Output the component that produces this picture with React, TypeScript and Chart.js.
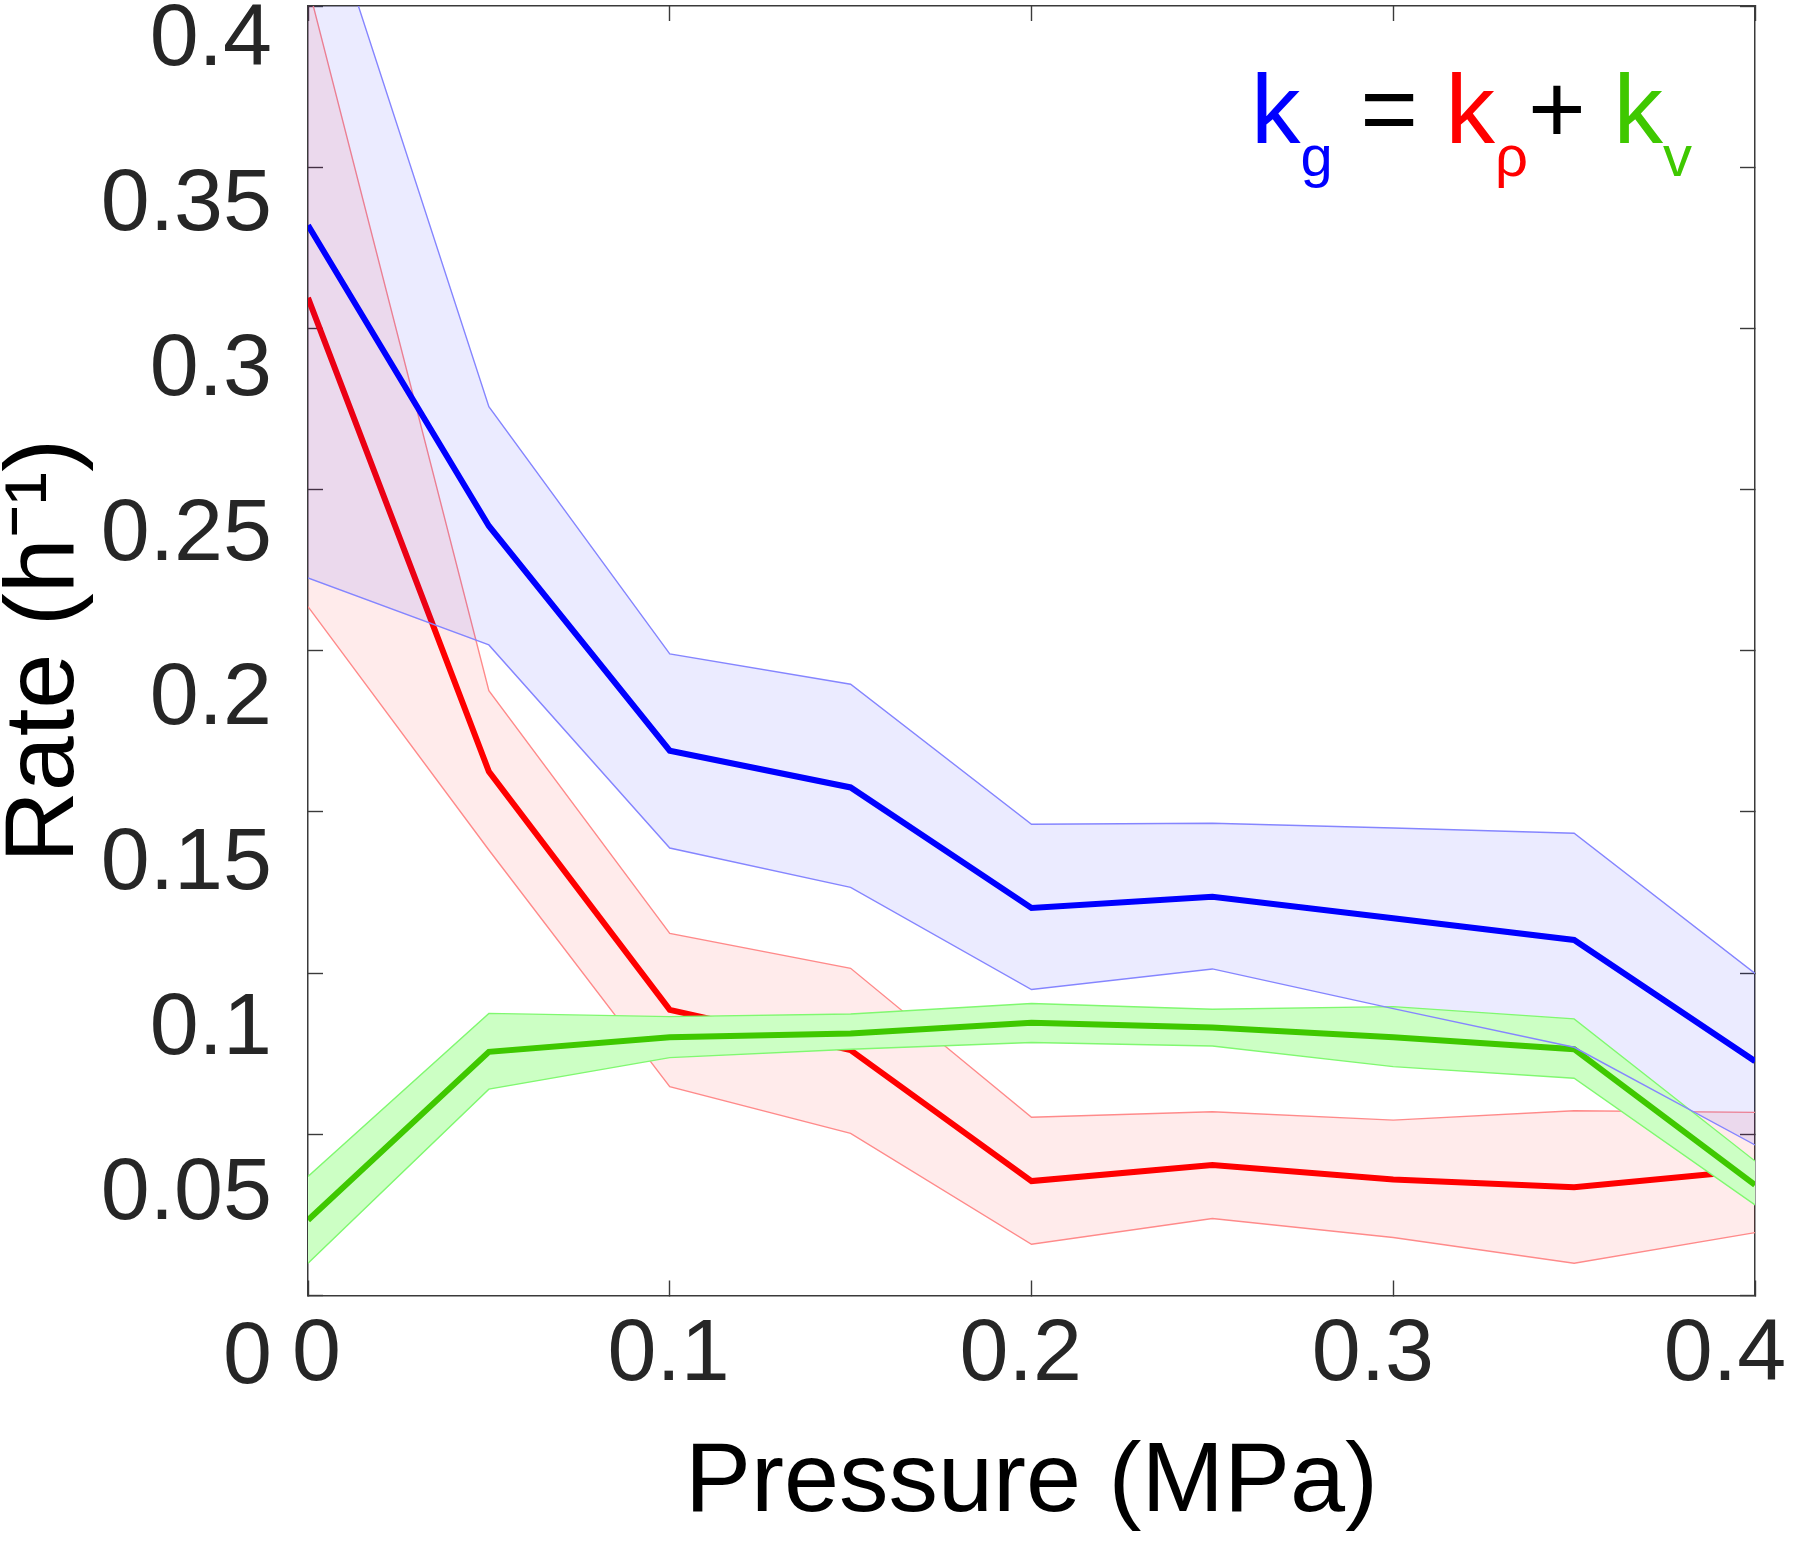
import React, { useEffect, useRef } from 'react';
import { Chart, registerables } from 'chart.js';

Chart.register(...registerables);

// ---- data ----
const pressure = [0, 0.05, 0.1, 0.15, 0.2, 0.25, 0.3, 0.35, 0.4];

const kgMean = [0.332, 0.2387, 0.169, 0.1576, 0.1202, 0.1237, 0.117, 0.1103, 0.0727];
const kgUpper = [0.448, 0.2757, 0.199, 0.1896, 0.1462, 0.1465, 0.145, 0.1434, 0.0999];
const kgLower = [0.2226, 0.2018, 0.1388, 0.1266, 0.0949, 0.1013, 0.089, 0.077, 0.0467];

const krMean = [0.3095, 0.1625, 0.0886, 0.0761, 0.0355, 0.0405, 0.036, 0.0336, 0.0389];
const krUpper = [0.4064, 0.1876, 0.1123, 0.1015, 0.0553, 0.057, 0.0544, 0.0573, 0.0568];
const krLower = [0.2137, 0.1382, 0.0648, 0.0503, 0.0159, 0.0239, 0.018, 0.01, 0.0195];

const kvMean = [0.0234, 0.0756, 0.0801, 0.0813, 0.0846, 0.0831, 0.0801, 0.0764, 0.0343];
const kvUpper = [0.0369, 0.0875, 0.0865, 0.0873, 0.0906, 0.0888, 0.0896, 0.0858, 0.0417];
const kvLower = [0.01, 0.064, 0.0738, 0.0764, 0.0785, 0.0774, 0.071, 0.0674, 0.0281];

const xTickValues = [0, 0.1, 0.2, 0.3, 0.4];
const yTickValues = [0, 0.05, 0.1, 0.15, 0.2, 0.25, 0.3, 0.35, 0.4];

const xTitle = 'Pressure (MPa)';
const yTitle = 'Rate (h\u207B\u00B9)';

// ---- styles ----
const FONT = "'Liberation Sans', 'Noto Sans', Arial, Helvetica, 'DejaVu Sans', sans-serif";
const AXIS = '#3a3a3a';
const TICKTXT = '#262626';
const BLUE = '#0000ff';
const RED = '#ff0000';
const GREEN = '#3fc800';

const W = 1800;
const H = 1544;

const fmt = (v: number) => String(Number(Number(v).toFixed(2)));

const fixSize = (prop: 'width' | 'height', size: number) => (s: any) => {
  s[prop] = size;
  s.paddingTop = 0;
  s.paddingBottom = 0;
  s.paddingLeft = 0;
  s.paddingRight = 0;
};

export default function App() {
  const ref = useRef<HTMLCanvasElement>(null);

  useEffect(() => {
    if (!ref.current) return;
    const pts = (ys: number[]) => pressure.map((x, i) => ({ x, y: ys[i] }));
    const base = { pointRadius: 0, pointHoverRadius: 0, tension: 0, xAxisID: 'x', yAxisID: 'y' };

    // index: 0 krUpper, 1 krLower, 2 krMean, 3 kgUpper, 4 kvUpper, 5 kvLower, 6 kvMean, 7 kgLower, 8 kgMean
    const datasets: any[] = [
      { ...base, label: 'k\u03C1 upper', data: pts(krUpper), borderColor: '#ff8a8a', borderWidth: 1.4, backgroundColor: 'rgba(255,0,0,0.08)', fill: 1, order: 92 },
      { ...base, label: 'k\u03C1 lower', data: pts(krLower), borderColor: '#ff8a8a', borderWidth: 1.4, fill: false, order: 91 },
      { ...base, label: 'k\u03C1', data: pts(krMean), borderColor: RED, borderWidth: 6, fill: false, order: 90 },
      { ...base, label: 'kg upper', data: pts(kgUpper), borderColor: '#8585ff', borderWidth: 1.4, backgroundColor: 'rgba(0,0,255,0.08)', fill: 7, order: 80 },
      { ...base, label: 'kv upper', data: pts(kvUpper), borderColor: '#80f870', borderWidth: 1.4, backgroundColor: '#ccffc4', fill: 5, order: 72 },
      { ...base, label: 'kv lower', data: pts(kvLower), borderColor: '#80f870', borderWidth: 1.4, fill: false, order: 71 },
      { ...base, label: 'kv', data: pts(kvMean), borderColor: GREEN, borderWidth: 6, fill: false, order: 70 },
      { ...base, label: 'kg lower', data: pts(kgLower), borderColor: '#8585ff', borderWidth: 1.4, fill: false, order: 5 },
      { ...base, label: 'kg', data: pts(kgMean), borderColor: BLUE, borderWidth: 6, fill: false, order: 4 },
    ];

    const tickGrid = {
      display: true,
      drawOnChartArea: false,
      drawTicks: true,
      tickLength: -15,
      tickColor: AXIS,
      tickWidth: 1.4,
    };
    const border = { display: true, color: AXIS, width: 1.5 };
    const noGrid = { display: false, drawTicks: false, drawOnChartArea: false };

    const chart = new Chart(ref.current, {
      type: 'line',
      data: { datasets },
      options: {
        responsive: false,
        animation: false,
        events: [],
        layout: { padding: 0, autoPadding: false },
        plugins: { legend: { display: false }, tooltip: { enabled: false } },
        scales: {
          x: {
            type: 'linear', position: 'bottom', min: 0, max: 0.4, weight: 0,
            ticks: { display: false, stepSize: 0.1 },
            grid: tickGrid, border,
            afterFit: fixSize('height', 0),
          },
          xt: {
            type: 'linear', position: 'bottom', min: -0.002414, max: 0.40852, weight: 1,
            afterBuildTicks: (s: any) => { s.ticks = xTickValues.map((v) => ({ value: v })); },
            ticks: {
              display: true, autoSkip: false, maxRotation: 0, minRotation: 0, padding: 7.7,
              color: TICKTXT, font: { family: FONT, size: 88 },
              callback: (v: any) => fmt(v),
            },
            grid: noGrid, border: { display: false },
            title: {
              display: true, text: xTitle, color: '#000000',
              font: { family: FONT, size: 99, lineHeight: 1.2 },
              padding: { top: 0, bottom: 0.6 },
            },
            afterFit: fixSize('height', 248.5),
          },
          x2: {
            type: 'linear', position: 'top', min: 0, max: 0.4,
            ticks: { display: false, stepSize: 0.1 },
            grid: tickGrid, border,
            afterFit: fixSize('height', 6),
          },
          y: {
            type: 'linear', position: 'left', min: 0, max: 0.4, weight: 0,
            ticks: { display: false, stepSize: 0.05 },
            grid: tickGrid, border,
            afterFit: fixSize('width', 0),
          },
          yt: {
            type: 'linear', position: 'left', min: 0.019271, max: 0.410622, weight: 1,
            afterBuildTicks: (s: any) => { s.ticks = yTickValues.map((v) => ({ value: v })); },
            ticks: {
              display: true, autoSkip: false, padding: 36,
              color: TICKTXT, font: { family: FONT, size: 88 },
              callback: (v: any) => fmt(v),
            },
            grid: noGrid, border: { display: false },
            title: {
              display: true, text: yTitle, color: '#000000',
              font: { family: FONT, size: 99, lineHeight: '91px' as any },
              padding: { top: 0, bottom: 0 },
            },
            afterFit: fixSize('width', 308),
          },
          y2: {
            type: 'linear', position: 'right', min: 0, max: 0.4,
            ticks: { display: false, stepSize: 0.05 },
            grid: tickGrid, border,
            afterFit: fixSize('width', 45),
          },
        } as any,
      },
    });

    return () => { chart.destroy(); };
  }, []);

  const sub: React.CSSProperties = { fontSize: 58, position: 'relative', top: 33, verticalAlign: 'baseline' };

  return (
    <div style={{ position: 'absolute', left: 0, top: 0, width: W, height: H, background: '#ffffff', overflow: 'hidden' }}>
      <canvas ref={ref} width={W} height={H} style={{ display: 'block', width: W, height: H }} />
      <div
        style={{
          position: 'absolute', left: 1251, top: 59, fontFamily: FONT, fontSize: 99,
          lineHeight: '99px', whiteSpace: 'pre', color: '#000000',
        }}
      >
        <span style={{ color: BLUE }}>k<span style={sub}>g</span></span>
        <span> = </span>
        <span style={{ color: RED }}>k<span style={sub}>{'\u03C1'}</span></span>
        <span>+ </span>
        <span style={{ color: GREEN }}>k<span style={sub}>v</span></span>
      </div>
    </div>
  );
}
